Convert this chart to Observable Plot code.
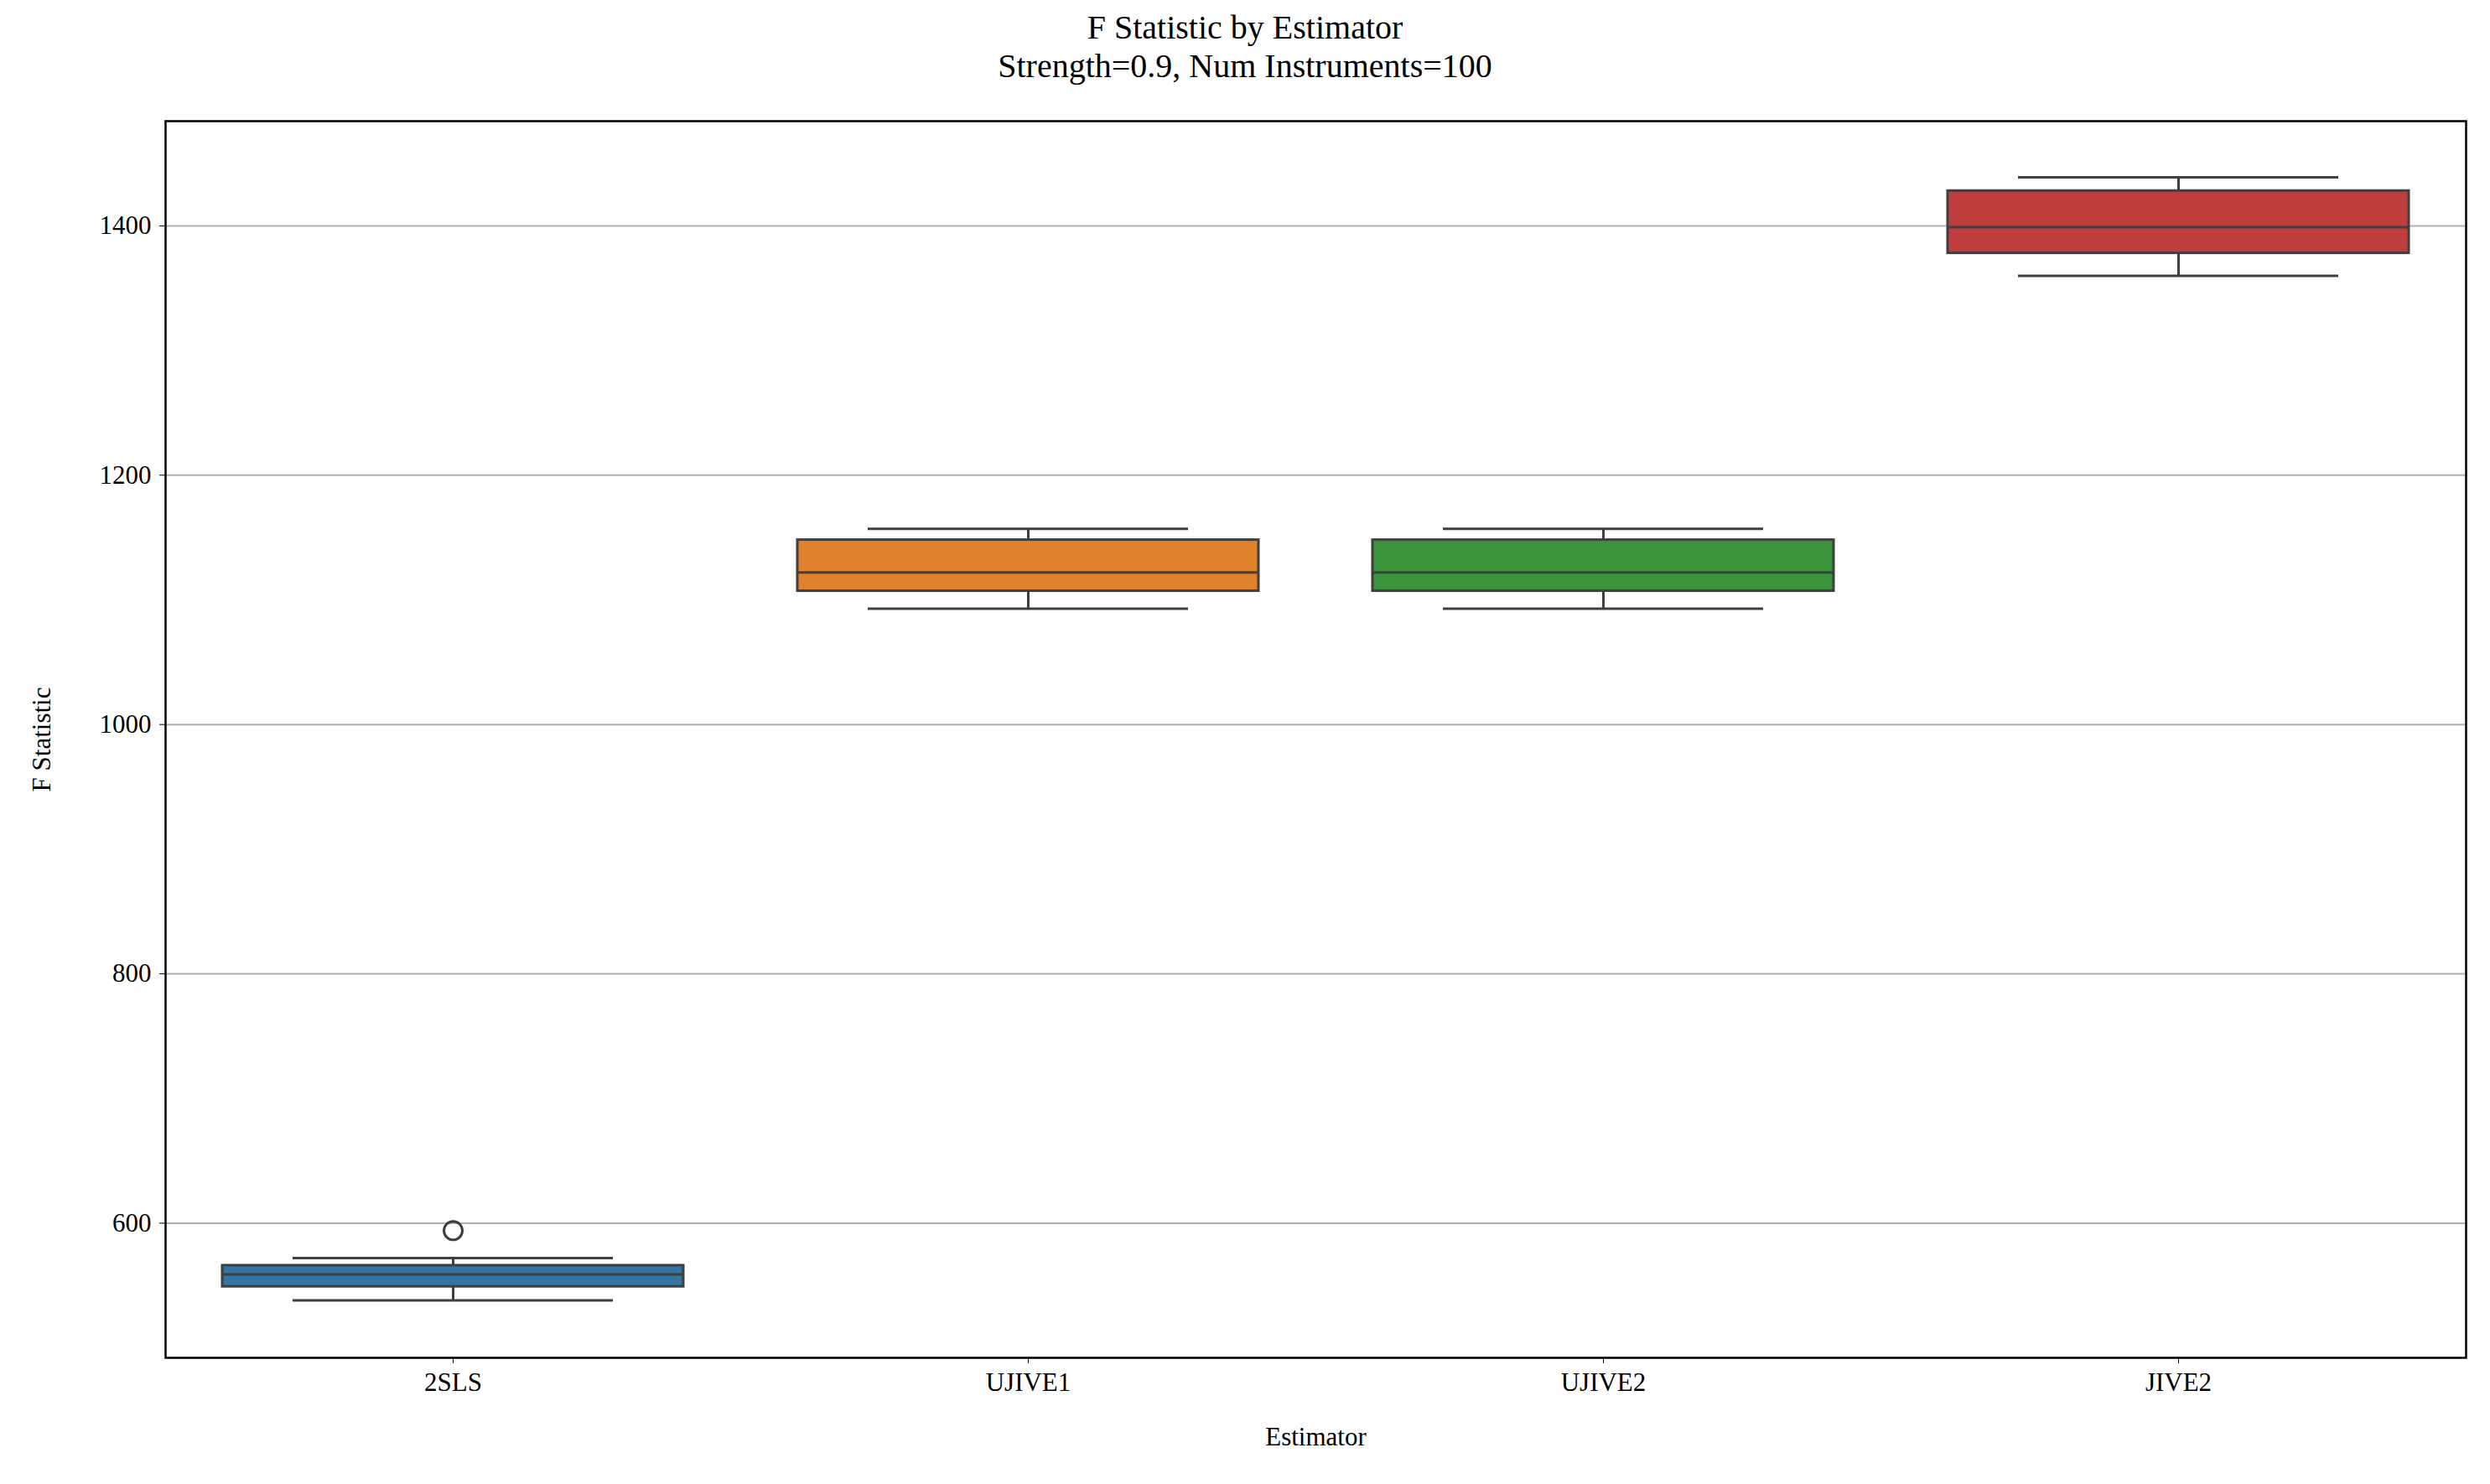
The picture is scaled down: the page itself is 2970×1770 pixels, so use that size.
<!DOCTYPE html>
<html>
<head>
<meta charset="utf-8">
<script src="https://cdn.jsdelivr.net/npm/d3@7"></script>
<script src="https://cdn.jsdelivr.net/npm/@observablehq/plot@0.6"></script>
<style>
  body { margin: 0; background: white; font-family: "Liberation Serif", serif; }
  #title { height: 130px; text-align: center; font-size: 40px; line-height: 46px; padding-top: 10px; box-sizing: border-box; color: #000; }
</style>
</head>
<body>
<div id="title">F Statistic by Estimator<br>Strength=0.9, Num Instruments=100</div>
<div id="vis"></div>
<script>
const estimators = ["2SLS", "UJIVE1", "UJIVE2", "JIVE2"]
const whiskerLow = [538, 1093, 1093, 1360]
const q1 = [549, 1107, 1107, 1378]
const median = [559, 1122, 1122, 1399]
const q3 = [566, 1148, 1148, 1428]
const whiskerHigh = [572, 1157, 1157, 1439]
const colors = ["#3274a1", "#e1812c", "#3a923a", "#c03d3e"]
const outliers = [{est: "2SLS", v: 594}]
const yTicks = [600, 800, 1000, 1200, 1400]

const boxes = estimators.map((e, i) => ({
  est: e, lo: whiskerLow[i], q1: q1[i], med: median[i], q3: q3[i], hi: whiskerHigh[i]
}))
const edge = "#3f3f3f"

const chart = Plot.plot({
  width: 2970,
  height: 1640,
  marginTop: 14,
  marginBottom: 151,
  marginLeft: 197,
  marginRight: 29,
  style: {fontSize: "31px", fontFamily: "Liberation Serif, serif", color: "#000", background: "white"},
  x: {domain: estimators, padding: 0},
  y: {domain: [492, 1484]},
  color: {domain: estimators, range: colors},
  marks: [
    Plot.gridY(yTicks, {stroke: "#b0b0b0", strokeOpacity: 1, strokeWidth: 2}),
    Plot.ruleX(boxes, {x: "est", y1: "lo", y2: "q1", stroke: edge, strokeWidth: 3}),
    Plot.ruleX(boxes, {x: "est", y1: "q3", y2: "hi", stroke: edge, strokeWidth: 3}),
    Plot.tickY(boxes, {x: "est", y: "lo", stroke: edge, strokeWidth: 3, insetLeft: 152, insetRight: 152}),
    Plot.tickY(boxes, {x: "est", y: "hi", stroke: edge, strokeWidth: 3, insetLeft: 152, insetRight: 152}),
    Plot.barY(boxes, {x: "est", y1: "q1", y2: "q3", fill: "est", stroke: edge, strokeWidth: 3, insetLeft: 68, insetRight: 68}),
    Plot.tickY(boxes, {x: "est", y: "med", stroke: edge, strokeWidth: 3, insetLeft: 68, insetRight: 68}),
    Plot.dot(outliers, {x: "est", y: "v", r: 11, stroke: edge, strokeWidth: 3, fill: "none"}),
    Plot.axisY({ticks: yTicks, tickFormat: d => String(d), tickSize: 7, tickPadding: 10, label: "F Statistic", labelAnchor: "center", labelArrow: "none", labelOffset: 160}),
    Plot.axisX({tickSize: 7, tickPadding: 10, label: "Estimator", labelAnchor: "center", labelArrow: "none", labelOffset: 104}),
    Plot.frame({stroke: "#000", strokeWidth: 2.5})
  ]
})
d3.select("#vis").append(() => chart)
</script>
</body>
</html>
